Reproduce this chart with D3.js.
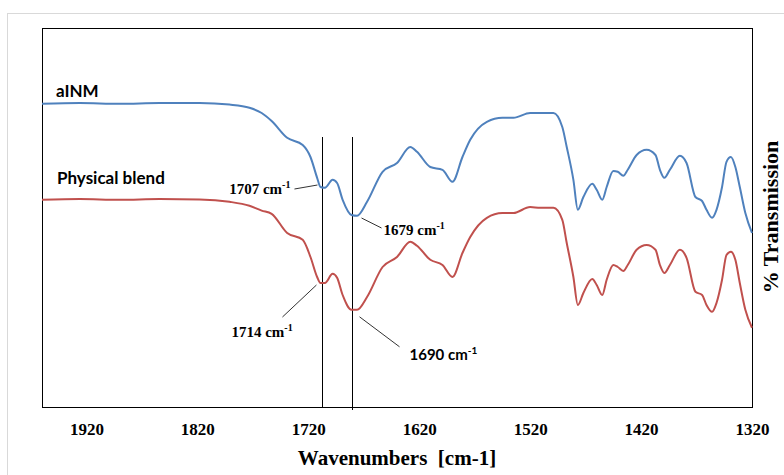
<!DOCTYPE html>
<html>
<head>
<meta charset="utf-8">
<script src="https://cdn.jsdelivr.net/npm/d3@7"></script>
<style>
  body { margin: 0; background: #fff; }
  svg { display: block; }
</style>
</head>
<body>
<svg id="grafica"></svg>
<script>
// numero de onda (cm-1), compartido por las dos series
const numerosDeOnda = [1960,1926,1890,1854,1818,1791,1773,1762,1753,1739,
  1725,1718,1712,1709,1705,1698,1694,1689,1681,1676,
  1667,1653,1640,1628,1622,1610,1599,1590,1581,1574,
  1559,1545,1535,1520,1511,1499,1491,1487,1481,1477,
  1472,1464,1460,1455,1451,1445,1441,1436,1432,1424,
  1415,1407,1403,1399,1394,1385,1379,1371,1365,1361,
  1356,1352,1347,1343,1339,1335,1331,1326,1320]

// % transmision (unidades arbitrarias)
const aINM = [75.8,76.0,75.8,76.0,76.0,75.6,74.8,73.5,71.5,67.3,
  65.5,62.5,57.3,55.0,54.8,56.8,56.0,51.8,48.0,47.8,
  51.3,58.8,61.0,65.0,63.8,60.0,59.3,56.3,62.5,66.8,
  71.3,72.3,72.3,73.5,73.5,73.5,70.0,65.0,56.8,49.3,
  52.5,55.8,54.3,51.8,55.0,59.0,58.8,57.8,59.3,63.0,
  64.3,63.0,59.3,57.3,59.3,62.8,61.0,52.5,51.5,49.3,
  47.3,49.3,55.0,61.3,62.5,60.0,55.0,48.5,43.5]

const mezclaFisica = [51.8,52.0,51.8,52.0,51.9,51.3,50.3,49.1,48.3,43.5,
  41.8,37.5,32.5,31.0,31.0,33.3,32.3,28.0,24.3,24.3,
  27.5,35.0,37.5,41.3,40.3,36.8,35.5,32.5,38.5,42.5,
  47.3,48.5,48.5,50.0,49.8,49.8,46.8,41.0,32.5,25.5,
  28.5,32.0,30.5,28.0,31.8,35.5,35.0,34.0,35.5,39.3,
  40.5,39.3,35.5,33.5,35.5,39.3,37.3,28.8,28.0,25.5,
  23.8,26.0,31.8,38.0,38.8,36.8,31.0,24.3,19.8]

const ticksX = [1920,1820,1720,1620,1520,1420,1320]
const lineasRef = [1708, 1681]
const topeLineas = 67.5

// picos marcados: serie, numero de onda del punto, texto
const picos = [
  {serie: 'aINM', wn: 1709, texto: '1707 cm'},
  {serie: 'aINM', wn: 1681, texto: '1679 cm'},
  {serie: 'mezcla', wn: 1709, texto: '1714 cm'},
  {serie: 'mezcla', wn: 1681, texto: '1690 cm'}
]

const widthSVG = 784
const heightSVG = 475
const izq = 42, der = 752, arriba = 28, abajo = 407

let svg = d3.select('#grafica')
  .attr('width', widthSVG)
  .attr('height', heightSVG)

// marco gris exterior
svg.append('rect')
  .attr('x', 7.5).attr('y', 13.5)
  .attr('width', 800).attr('height', 500)
  .attr('fill', 'none')
  .attr('stroke', '#d9d9d9')

let xScale = d3.scaleLinear().domain([1960, 1320]).range([izq, der])
let yScale = d3.scaleLinear().domain([0, 94.75]).range([abajo, arriba])

// caja del area de trazado
svg.append('rect')
  .attr('x', izq + 0.5).attr('y', arriba + 0.5)
  .attr('width', der - izq).attr('height', abajo - arriba)
  .attr('fill', 'none')
  .attr('stroke', '#000')
  .attr('stroke-width', 1)

let xAxis = d3.axisBottom(xScale)
  .tickValues(ticksX)
  .tickSize(0)
  .tickPadding(16)
  .tickFormat(d3.format('d'))

let gx = svg.append('g')
  .attr('id', 'x-axis')
  .attr('transform', 'translate(0,' + abajo + ')')
  .call(xAxis)
gx.select('.domain').remove()
gx.selectAll('text')
  .attr('font-family', '"Liberation Serif", "Times New Roman", serif')
  .attr('font-weight', 'bold')
  .attr('font-size', 17)
  .attr('fill', '#000')

// lineas verticales de referencia
svg.selectAll('.ref')
  .data(lineasRef)
  .enter()
  .append('line')
  .attr('class', 'ref')
  .attr('x1', d => Math.round(xScale(d)) + 0.5)
  .attr('x2', d => Math.round(xScale(d)) + 0.5)
  .attr('y1', yScale(topeLineas))
  .attr('y2', (d, i) => yScale(0) + (i === 1 ? 3 : 0))
  .attr('stroke', '#000')
  .attr('stroke-width', 1)

let linea = d3.line()
  .x((d, i) => xScale(numerosDeOnda[i]))
  .y(d => yScale(d))
  .curve(d3.curveMonotoneX)

svg.append('path')
  .datum(aINM)
  .attr('d', linea)
  .attr('fill', 'none')
  .attr('stroke', '#4F81BD')
  .attr('stroke-width', 2)

svg.append('path')
  .datum(mezclaFisica)
  .attr('d', linea)
  .attr('fill', 'none')
  .attr('stroke', '#C0504D')
  .attr('stroke-width', 2)

// nombres de las series
const fuenteSans = 'Lato, "Open Sans", sans-serif'
svg.append('text')
  .attr('x', 56).attr('y', 97)
  .attr('font-family', fuenteSans)
  .attr('font-weight', 'bold')
  .attr('font-size', 17)
  .text('aINM')

svg.append('text')
  .attr('x', 57).attr('y', 184)
  .attr('font-family', fuenteSans)
  .attr('font-weight', 'bold')
  .attr('font-size', 17)
  .text('Physical blend')

// anotaciones de picos: guia y texto relativos al punto de la curva
const colocacion = [
  {l1: [-3, -2], l2: [-26, 2], t: [-30, 7], anchor: 'end', sans: false},
  {l1: [10, 3], l2: [30, 13], t: [32, 20], anchor: 'start', sans: false},
  {l1: [-4, 2], l2: [-38, 34], t: [-89, 54], anchor: 'start', sans: false},
  {l1: [8, 7], l2: [48, 37], t: [58, 50], anchor: 'start', sans: true}
]

picos.forEach((p, k) => {
  let idx = numerosDeOnda.indexOf(p.wn)
  let valor = p.serie === 'aINM' ? aINM[idx] : mezclaFisica[idx]
  let ax = xScale(p.wn)
  let ay = yScale(valor)
  let c = colocacion[k]

  svg.append('line')
    .attr('x1', ax + c.l1[0]).attr('y1', ay + c.l1[1])
    .attr('x2', ax + c.l2[0]).attr('y2', ay + c.l2[1])
    .attr('stroke', '#333')
    .attr('stroke-width', 1)

  let t = svg.append('text')
    .attr('x', ax + c.t[0]).attr('y', ay + c.t[1])
    .attr('text-anchor', c.anchor)
    .attr('font-family', c.sans ? fuenteSans : '"Liberation Serif", "Times New Roman", serif')
    .attr('font-weight', 'bold')
    .attr('font-size', 15)
    .attr('fill', '#000')
  t.append('tspan').text(p.texto)
  t.append('tspan')
    .attr('dy', -6)
    .attr('font-size', 10)
    .text('-1')
})

// titulos de los ejes
svg.append('text')
  .attr('x', 397).attr('y', 465)
  .attr('text-anchor', 'middle')
  .attr('font-family', '"Liberation Serif", "Times New Roman", serif')
  .attr('font-weight', 'bold')
  .attr('font-size', 21)
  .attr('xml:space', 'preserve')
  .text('Wavenumbers  [cm-1]')

svg.append('text')
  .attr('transform', 'translate(778,217) rotate(-90)')
  .attr('text-anchor', 'middle')
  .attr('font-family', '"Liberation Serif", "Times New Roman", serif')
  .attr('font-weight', 'bold')
  .attr('font-size', 22)
  .text('% Transmission')
</script>
</body>
</html>
